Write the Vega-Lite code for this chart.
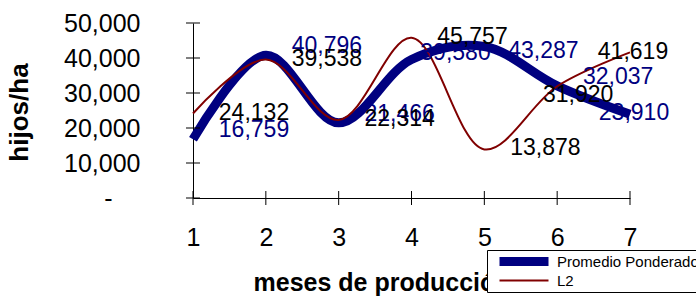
{
  "$schema": "https://vega.github.io/schema/vega-lite/v6.json",
  "width": 437,
  "height": 175,
  "autosize": {"type": "none"},
  "padding": {"left": 193, "top": 23, "right": 66, "bottom": 99},
  "background": "white",
  "config": {"view": {"stroke": null}, "font": "Liberation Sans", "axis": {"labelOverlap": false, "labelFlush": false}},
  "resolve": {"axis": {"x": "independent", "y": "independent"}},
  "data": {"values": [
    {"mes": 1, "serie": "Promedio Ponderado", "v": 16759},
    {"mes": 2, "serie": "Promedio Ponderado", "v": 40796},
    {"mes": 3, "serie": "Promedio Ponderado", "v": 21466},
    {"mes": 4, "serie": "Promedio Ponderado", "v": 39580},
    {"mes": 5, "serie": "Promedio Ponderado", "v": 43287},
    {"mes": 6, "serie": "Promedio Ponderado", "v": 32037},
    {"mes": 7, "serie": "Promedio Ponderado", "v": 23910},
    {"mes": 1, "serie": "L2", "v": 24132},
    {"mes": 2, "serie": "L2", "v": 39538},
    {"mes": 3, "serie": "L2", "v": 22314},
    {"mes": 4, "serie": "L2", "v": 45757},
    {"mes": 5, "serie": "L2", "v": 13878},
    {"mes": 6, "serie": "L2", "v": 31920},
    {"mes": 7, "serie": "L2", "v": 41619}
  ]},
  "layer": [
    {
      "transform": [{"filter": "datum.serie == 'Promedio Ponderado'"}],
      "mark": {"type": "line", "interpolate": "catmull-rom", "strokeCap": "butt"},
      "encoding": {
        "x": {"field": "mes", "type": "quantitative",
          "scale": {"domain": [1, 7], "nice": false, "zero": false},
          "axis": {"title": "meses de producción", "values": [1, 2, 3, 4, 5, 6, 7], "format": "d",
            "grid": false, "ticks": false, "tickSize": 0, "labelPadding": 27, "labelFontSize": 25,
            "labelOverlap": false, "labelFlush": false,
            "labelColor": "black", "labelBaseline": "top", "domainColor": "black",
            "titleFontSize": 25, "titleFontWeight": "bold", "titleColor": "black",
            "titleAlign": "left", "titleBaseline": "alphabetic", "titleX": 60, "titleY": 92}},
        "y": {"field": "v", "type": "quantitative",
          "scale": {"domain": [0, 50000], "nice": false},
          "axis": {"title": "hijos/ha", "values": [0, 10000, 20000, 30000, 40000, 50000],
            "labelExpr": "datum.value == 0 ? '-' : format(datum.value, ',')",
            "labelOverlap": false, "labelFlush": false,
            "grid": false, "ticks": false, "tickSize": 0,
            "labelPadding": {"condition": {"test": "datum.value == 0", "value": 81}, "value": 53},
            "labelFontSize": 25,
            "labelColor": "black", "domainColor": "black",
            "titleFontSize": 26, "titleFontWeight": "bold", "titleColor": "black",
            "titleAngle": -90, "titleAlign": "center", "titleBaseline": "middle", "titleX": -174, "titleY": 89}},
        "color": {"field": "serie", "type": "nominal",
          "scale": {"domain": ["Promedio Ponderado", "L2"], "range": ["#000080", "#800000"]},
          "legend": {"title": null, "orient": "none", "legendX": 294, "legendY": 227,
            "fillColor": "white", "strokeColor": "black", "padding": 2, "symbolOffset": 6,
            "symbolType": "stroke", "symbolSize": 2401, "labelFontSize": 15, "labelOffset": 4,
            "rowPadding": 0, "clipHeight": 19, "labelColor": "black", "labelLimit": 300}},
        "strokeWidth": {"field": "serie", "type": "nominal",
          "scale": {"domain": ["Promedio Ponderado", "L2"], "range": [9, 2]},
          "legend": {"title": null, "orient": "none", "legendX": 294, "legendY": 227,
            "fillColor": "white", "strokeColor": "black", "padding": 2, "symbolOffset": 6,
            "symbolType": "stroke", "symbolSize": 2401, "labelFontSize": 15, "labelOffset": 4,
            "rowPadding": 0, "clipHeight": 19, "labelColor": "black", "labelLimit": 300}}
      }
    },
    {
      "transform": [{"filter": "datum.serie == 'L2'"}],
      "mark": {"type": "line", "interpolate": "catmull-rom", "strokeCap": "butt"},
      "encoding": {
        "x": {"field": "mes", "type": "quantitative", "axis": null},
        "y": {"field": "v", "type": "quantitative", "axis": null},
        "color": {"field": "serie", "type": "nominal"},
        "strokeWidth": {"field": "serie", "type": "nominal"}
      }
    },
    {
      "data": {"values": [{"t": 0}, {"t": 10000}, {"t": 20000}, {"t": 30000}, {"t": 40000}, {"t": 50000}]},
      "mark": {"type": "tick", "orient": "horizontal", "size": 14, "thickness": 1, "color": "black", "opacity": 1},
      "encoding": {
        "x": {"datum": 1, "type": "quantitative", "axis": null},
        "y": {"field": "t", "type": "quantitative", "axis": null}
      }
    },
    {
      "data": {"values": [{"m": 1}, {"m": 2}, {"m": 3}, {"m": 4}, {"m": 5}, {"m": 6}, {"m": 7}]},
      "mark": {"type": "tick", "orient": "vertical", "size": 14, "thickness": 1, "color": "black", "opacity": 1},
      "encoding": {
        "x": {"field": "m", "type": "quantitative", "axis": null},
        "y": {"datum": 0, "type": "quantitative", "axis": null}
      }
    },
    {
      "transform": [{"filter": "datum.serie == 'Promedio Ponderado' && (datum.mes <= 3 || datum.mes == 6)"}],
      "mark": {"type": "text", "fontSize": 23, "color": "#000080", "dx": 61, "dy": -9, "align": "center", "baseline": "middle"},
      "encoding": {"x": {"field": "mes", "type": "quantitative", "axis": null}, "y": {"field": "v", "type": "quantitative", "axis": null}, "text": {"field": "v", "type": "quantitative", "format": ","}}
    },
    {
      "transform": [{"filter": "datum.serie == 'Promedio Ponderado' && datum.mes == 4"}],
      "mark": {"type": "text", "fontSize": 23, "color": "#000080", "dx": 44, "dy": -6, "align": "center", "baseline": "middle"},
      "encoding": {"x": {"field": "mes", "type": "quantitative", "axis": null}, "y": {"field": "v", "type": "quantitative", "axis": null}, "text": {"field": "v", "type": "quantitative", "format": ","}}
    },
    {
      "transform": [{"filter": "datum.serie == 'Promedio Ponderado' && datum.mes == 5"}],
      "mark": {"type": "text", "fontSize": 23, "color": "#000080", "dx": 59, "dy": 5, "align": "center", "baseline": "middle"},
      "encoding": {"x": {"field": "mes", "type": "quantitative", "axis": null}, "y": {"field": "v", "type": "quantitative", "axis": null}, "text": {"field": "v", "type": "quantitative", "format": ","}}
    },
    {
      "transform": [{"filter": "datum.serie == 'Promedio Ponderado' && datum.mes == 7"}],
      "mark": {"type": "text", "fontSize": 23, "color": "#000080", "dx": 4, "dy": -1, "align": "center", "baseline": "middle"},
      "encoding": {"x": {"field": "mes", "type": "quantitative", "axis": null}, "y": {"field": "v", "type": "quantitative", "axis": null}, "text": {"field": "v", "type": "quantitative", "format": ","}}
    },
    {
      "transform": [{"filter": "datum.serie == 'L2' && datum.mes <= 5"}],
      "mark": {"type": "text", "fontSize": 23, "color": "black", "dx": 61, "dy": -1, "align": "center", "baseline": "middle"},
      "encoding": {"x": {"field": "mes", "type": "quantitative", "axis": null}, "y": {"field": "v", "type": "quantitative", "axis": null}, "text": {"field": "v", "type": "quantitative", "format": ","}}
    },
    {
      "transform": [{"filter": "datum.serie == 'L2' && datum.mes == 6"}],
      "mark": {"type": "text", "fontSize": 23, "color": "black", "dx": 21, "dy": 9, "align": "center", "baseline": "middle"},
      "encoding": {"x": {"field": "mes", "type": "quantitative", "axis": null}, "y": {"field": "v", "type": "quantitative", "axis": null}, "text": {"field": "v", "type": "quantitative", "format": ","}}
    },
    {
      "transform": [{"filter": "datum.serie == 'L2' && datum.mes == 7"}],
      "mark": {"type": "text", "fontSize": 23, "color": "black", "dx": 3, "dy": 0, "align": "center", "baseline": "middle"},
      "encoding": {"x": {"field": "mes", "type": "quantitative", "axis": null}, "y": {"field": "v", "type": "quantitative", "axis": null}, "text": {"field": "v", "type": "quantitative", "format": ","}}
    }
  ]
}
